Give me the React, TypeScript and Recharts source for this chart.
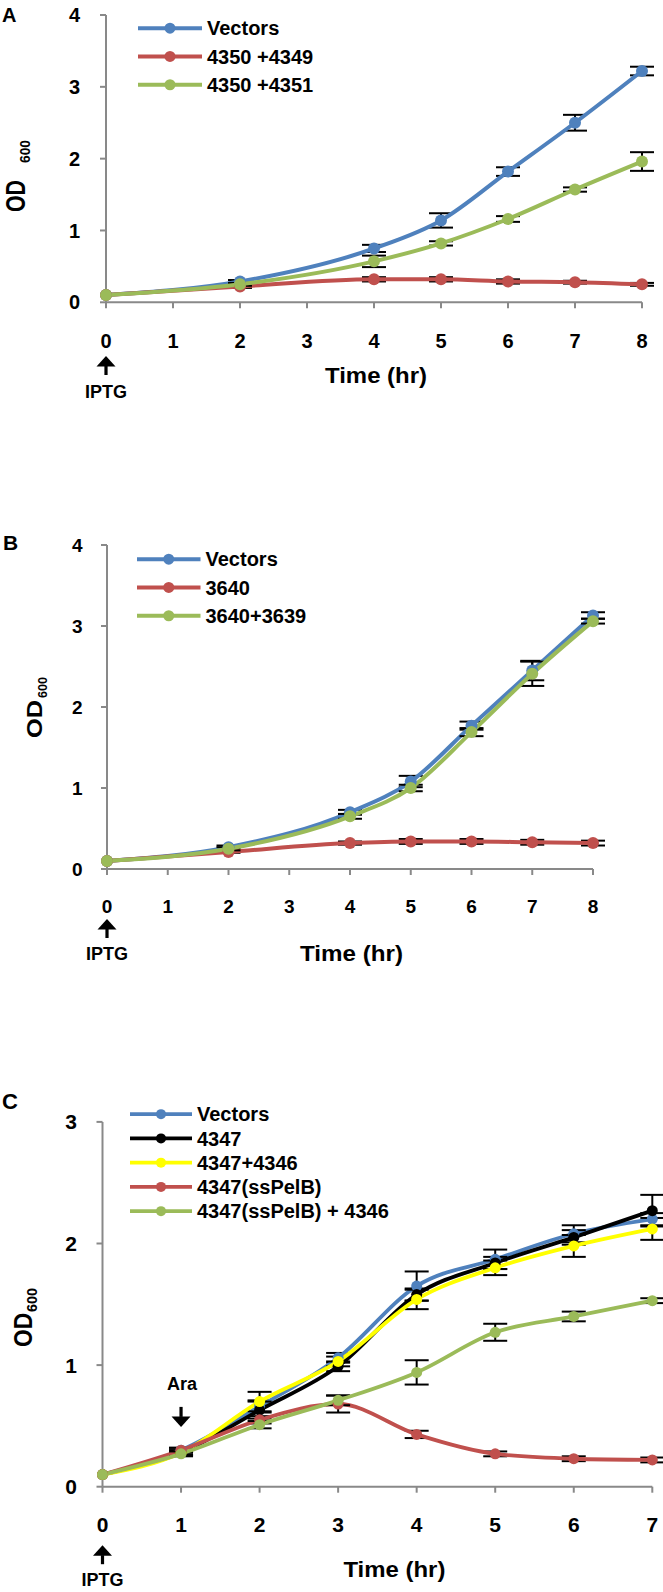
import React from "react";
import { LineChart, Line, XAxis, YAxis, ErrorBar, Legend, ReferenceDot } from "recharts";

const FONT = '"Liberation Sans", Arial, Helvetica, sans-serif';
const GREY = "#898989";
const BLUE = "#4F81BD";
const RED = "#C0504D";
const GREEN = "#9BBB59";
const BLACK = "#000000";
const YELLOW = "#FFFF00";

// Panel A
const timeA = [0, 2, 4, 5, 6, 7, 8];
const vectorsA = [0.1, 0.29, 0.75, 1.14, 1.82, 2.5, 3.22];
const vectorsAErr = [0, 0.02, 0.05, 0.1, 0.06, 0.11, 0.06];
const a4349 = [0.1, 0.22, 0.32, 0.32, 0.29, 0.28, 0.25];
const a4349Err = [0, 0.02, 0.03, 0.03, 0.03, 0.02, 0.02];
const a4351 = [0.1, 0.25, 0.57, 0.82, 1.16, 1.57, 1.96];
const a4351Err = [0, 0.02, 0.08, 0.03, 0.04, 0.03, 0.13];

// Panel B
const timeB = [0, 2, 4, 5, 6, 7, 8];
const vectorsB = [0.1, 0.27, 0.7, 1.08, 1.77, 2.45, 3.13];
const vectorsBErr = [0, 0.02, 0.03, 0.07, 0.05, 0.12, 0.04];
const b3640 = [0.1, 0.21, 0.32, 0.34, 0.34, 0.33, 0.32];
const b3640Err = [0, 0.01, 0.02, 0.03, 0.03, 0.03, 0.03];
const b3639 = [0.1, 0.25, 0.65, 1.0, 1.69, 2.41, 3.06];
const b3639Err = [0, 0.02, 0.03, 0.04, 0.05, 0.15, 0.03];

// Panel C
const timeC = [0, 1, 2, 3, 4, 5, 6, 7];
const vectorsC = [0.1, 0.3, 0.66, 1.06, 1.65, 1.87, 2.08, 2.2];
const vectorsCErr = [0, 0.02, 0.05, 0.04, 0.12, 0.08, 0.07, 0.05];
const c4347 = [0.1, 0.28, 0.63, 0.99, 1.58, 1.84, 2.05, 2.27];
const c4347Err = [0, 0.02, 0.07, 0.04, 0.05, 0.05, 0.06, 0.13];
const c4346 = [0.1, 0.28, 0.7, 1.03, 1.54, 1.8, 1.98, 2.12];
const c4346Err = [0, 0.02, 0.08, 0.04, 0.08, 0.06, 0.09, 0.09];
const cPelB = [0.1, 0.3, 0.55, 0.68, 0.43, 0.27, 0.23, 0.22];
const cPelBErr = [0, 0.02, 0.03, 0.07, 0.03, 0.02, 0.02, 0.02];
const cPelB4346 = [0.1, 0.27, 0.51, 0.71, 0.94, 1.27, 1.4, 1.53];
const cPelB4346Err = [0, 0.02, 0.03, 0.04, 0.1, 0.07, 0.04, 0.02];

type Series = { name: string; color: string; values: number[]; errs: number[] };

const seriesA: Series[] = [
  { name: "Vectors", color: BLUE, values: vectorsA, errs: vectorsAErr },
  { name: "4350 +4349", color: RED, values: a4349, errs: a4349Err },
  { name: "4350 +4351", color: GREEN, values: a4351, errs: a4351Err },
];
const seriesB: Series[] = [
  { name: "Vectors", color: BLUE, values: vectorsB, errs: vectorsBErr },
  { name: "3640", color: RED, values: b3640, errs: b3640Err },
  { name: "3640+3639", color: GREEN, values: b3639, errs: b3639Err },
];
const seriesC: Series[] = [
  { name: "Vectors", color: BLUE, values: vectorsC, errs: vectorsCErr },
  { name: "4347", color: BLACK, values: c4347, errs: c4347Err },
  { name: "4347+4346", color: YELLOW, values: c4346, errs: c4346Err },
  { name: "4347(ssPelB)", color: RED, values: cPelB, errs: cPelBErr },
  { name: "4347(ssPelB) + 4346", color: GREEN, values: cPelB4346, errs: cPelB4346Err },
];

function buildRows(time: number[], series: Series[]) {
  return time.map((t, i) => {
    const row: Record<string, number> = { t };
    series.forEach((s, k) => {
      row["v" + k] = s.values[i];
      row["e" + k] = s.errs[i];
    });
    return row;
  });
}

function LegendBox({ items, row, font, lineLen, r, lw }: any) {
  return (
    <svg width={380} height={items.length * row} style={{ display: "block", overflow: "visible" }}>
      {items.map((s: Series, i: number) => {
        const y = row / 2 + i * row;
        return (
          <g key={s.name}>
            <line x1={0} x2={lineLen} y1={y} y2={y} stroke={s.color} strokeWidth={lw} />
            <circle cx={lineLen / 2} cy={y} r={r} fill={s.color} />
            <text x={lineLen + 5} y={y + font * 0.36} fontSize={font} fontWeight="bold" fontFamily={FONT} fill="#000">
              {s.name}
            </text>
          </g>
        );
      })}
    </svg>
  );
}

function upArrow(cx: number, tipY: number, tailY: number) {
  return (
    <g>
      <polygon points={`${cx},${tipY} ${cx - 9.5},${tipY + 10.5} ${cx + 9.5},${tipY + 10.5}`} fill="#000" />
      <rect x={cx - 1.6} y={tipY + 10} width={3.2} height={tailY - tipY - 10} fill="#000" />
    </g>
  );
}

function downArrow(cx: number, tipY: number, tailY: number) {
  return (
    <g>
      <polygon points={`${cx},${tipY} ${cx - 9.5},${tipY - 10.5} ${cx + 9.5},${tipY - 10.5}`} fill="#000" />
      <rect x={cx - 1.6} y={tailY} width={3.2} height={tipY - tailY - 10} fill="#000" />
    </g>
  );
}

type PanelCfg = {
  top: number;
  height: number;
  margin: { top: number; right: number; left: number; bottom: number };
  yWidth: number;
  xHeight: number;
  yMax: number;
  time: number[];
  xTicks: number[];
  series: Series[];
  tickFont: number;
  yTickMargin: number;
  xTickMargin: number;
  lw: number;
  dotR: number;
  legend: { left: number; top: number; row: number; font: number; lineLen: number; r: number; lw: number };
  iptg: { tip: number; tail: number; text: number; font: number };
  ara?: { tip: number; tail: number; text: number; font: number };
};

function Panel({ cfg }: { cfg: PanelCfg }) {
  const data = buildRows(cfg.time, cfg.series);
  const yTicks = Array.from({ length: cfg.yMax + 1 }, (_, i) => i);
  const tickStyle = { fill: "#000", fontSize: cfg.tickFont, fontWeight: "bold", fontFamily: FONT };
  const ip = cfg.iptg;
  const ara = cfg.ara;
  return (
    <div style={{ position: "absolute", left: 0, top: cfg.top, width: 663, height: cfg.height }}>
      <LineChart width={663} height={cfg.height} data={data} margin={cfg.margin}>
        <XAxis
          dataKey="t"
          type="number"
          domain={[0, cfg.xTicks[cfg.xTicks.length - 1]]}
          ticks={cfg.xTicks}
          interval={0}
          height={cfg.xHeight}
          tickSize={6}
          tickMargin={cfg.xTickMargin}
          axisLine={{ stroke: GREY, strokeWidth: 2 }}
          tickLine={{ stroke: GREY, strokeWidth: 2 }}
          tick={tickStyle}
        />
        <YAxis
          type="number"
          domain={[0, cfg.yMax]}
          ticks={yTicks}
          interval={0}
          width={cfg.yWidth}
          tickSize={6}
          tickMargin={cfg.yTickMargin}
          axisLine={{ stroke: GREY, strokeWidth: 2 }}
          tickLine={{ stroke: GREY, strokeWidth: 2 }}
          tick={tickStyle}
        />
        <Legend
          layout="horizontal"
          verticalAlign="middle"
          align="center"
          wrapperStyle={{ left: cfg.legend.left, top: cfg.legend.top, width: 380, height: cfg.series.length * cfg.legend.row }}
          content={() => (
            <LegendBox
              items={cfg.series}
              row={cfg.legend.row}
              font={cfg.legend.font}
              lineLen={cfg.legend.lineLen}
              r={cfg.legend.r}
              lw={cfg.legend.lw}
            />
          )}
        />
        {cfg.series.map((s, k) => (
          <Line
            key={s.name}
            type="monotone"
            dataKey={"v" + k}
            name={s.name}
            stroke={s.color}
            strokeWidth={cfg.lw}
            dot={{ r: cfg.dotR, fill: s.color, stroke: s.color, strokeWidth: 0 }}
            activeDot={false}
            isAnimationActive={false}
          >
            <ErrorBar dataKey={"e" + k} direction="y" width={12} strokeWidth={2} stroke="#000" />
          </Line>
        ))}
        <ReferenceDot
          x={0}
          y={0}
          r={0}
          isFront
          shape={(p: any) => (
            <g>
              {upArrow(p.cx, p.cy + ip.tip, p.cy + ip.tail)}
              <text x={p.cx} y={p.cy + ip.text} textAnchor="middle" fontSize={ip.font} fontWeight="bold" fontFamily={FONT} fill="#000">
                IPTG
              </text>
            </g>
          )}
        />
        {ara && (
          <ReferenceDot
            x={1}
            y={0}
            r={0}
            isFront
            shape={(p: any) => (
              <g>
                {downArrow(p.cx, p.cy - ara.tip, p.cy - ara.tail)}
                <text x={p.cx + 1} y={p.cy - ara.text} textAnchor="middle" fontSize={ara.font} fontWeight="bold" fontFamily={FONT} fill="#000">
                  Ara
                </text>
              </g>
            )}
          />
        )}
      </LineChart>
    </div>
  );
}

const panelA: PanelCfg = {
  top: 0,
  height: 410,
  margin: { top: 15, right: 21, left: 0, bottom: 0 },
  yWidth: 106,
  xHeight: 107.7,
  yMax: 4,
  time: timeA,
  xTicks: [0, 1, 2, 3, 4, 5, 6, 7, 8],
  series: seriesA,
  tickFont: 20,
  yTickMargin: 20,
  xTickMargin: 25.5,
  lw: 4,
  dotR: 6,
  legend: { left: 138, top: 14.2, row: 28.3, font: 20, lineLen: 64, r: 5.5, lw: 4 },
  iptg: { tip: 53.7, tail: 72.7, text: 95.7, font: 18 },
};

const panelB: PanelCfg = {
  top: 500,
  height: 470,
  margin: { top: 45, right: 70, left: 0, bottom: 0 },
  yWidth: 107,
  xHeight: 101,
  yMax: 4,
  time: timeB,
  xTicks: [0, 1, 2, 3, 4, 5, 6, 7, 8],
  series: seriesB,
  tickFont: 19,
  yTickMargin: 18.5,
  xTickMargin: 24.5,
  lw: 4,
  dotR: 6,
  legend: { left: 136.7, top: 44.85, row: 28.3, font: 20, lineLen: 63.5, r: 5.5, lw: 4 },
  iptg: { tip: 50, tail: 69, text: 91, font: 18 },
};

const panelC: PanelCfg = {
  top: 1060,
  height: 532,
  margin: { top: 61.9, right: 10.7, left: 0, bottom: 0 },
  yWidth: 102.5,
  xHeight: 105.3,
  yMax: 3,
  time: timeC,
  xTicks: [0, 1, 2, 3, 4, 5, 6, 7],
  series: seriesC,
  tickFont: 21,
  yTickMargin: 19.5,
  xTickMargin: 24.3,
  lw: 3.8,
  dotR: 5.5,
  legend: { left: 130, top: 42.2, row: 24.25, font: 20, lineLen: 62, r: 5, lw: 3.6 },
  iptg: { tip: 58.5, tail: 77.5, text: 99.5, font: 18 },
  ara: { tip: 59.8, tail: 79.8, text: 96.3, font: 18 },
};

function Overlay() {
  const bold = { fontWeight: "bold" as const, fontFamily: FONT, fill: "#000" };
  const rot = (x: number, y: number) => `rotate(-90 ${x} ${y})`;
  return (
    <svg width={663} height={1592} style={{ position: "absolute", left: 0, top: 0, pointerEvents: "none" }}>
      <text x={2} y={22} fontSize={20} {...bold}>A</text>
      <text x={3} y={550} fontSize={21} {...bold}>B</text>
      <text x={2} y={1109} fontSize={22} {...bold}>C</text>

      <text x={25} y={196} transform={rot(25, 196)} textAnchor="middle" fontSize={28} textLength={32} lengthAdjust="spacingAndGlyphs" {...bold}>OD</text>
      <text x={30} y={151.5} transform={rot(30, 151.5)} textAnchor="middle" fontSize={15} textLength={23} lengthAdjust="spacingAndGlyphs" {...bold}>600</text>

      <text x={42} y={719} transform={rot(42, 719)} textAnchor="middle" fontSize={22} textLength={38} lengthAdjust="spacingAndGlyphs" {...bold}>OD</text>
      <text x={47} y={687.5} transform={rot(47, 687.5)} textAnchor="middle" fontSize={13.5} textLength={21} lengthAdjust="spacingAndGlyphs" {...bold}>600</text>

      <text x={32} y={1330} transform={rot(32, 1330)} textAnchor="middle" fontSize={26} textLength={34} lengthAdjust="spacingAndGlyphs" {...bold}>OD</text>
      <text x={37} y={1300} transform={rot(37, 1300)} textAnchor="middle" fontSize={14} textLength={24} lengthAdjust="spacingAndGlyphs" {...bold}>600</text>

      <text x={376} y={383} textAnchor="middle" fontSize={22} textLength={102} lengthAdjust="spacingAndGlyphs" {...bold}>Time (hr)</text>
      <text x={351.5} y={961} textAnchor="middle" fontSize={22} textLength={103} lengthAdjust="spacingAndGlyphs" {...bold}>Time (hr)</text>
      <text x={394.4} y={1577} textAnchor="middle" fontSize={22} textLength={102} lengthAdjust="spacingAndGlyphs" {...bold}>Time (hr)</text>
    </svg>
  );
}

export default function App() {
  return (
    <div style={{ position: "absolute", left: 0, top: 0, width: 663, height: 1592, background: "#fff", overflow: "hidden" }}>
      <Panel cfg={panelA} />
      <Panel cfg={panelB} />
      <Panel cfg={panelC} />
      <Overlay />
    </div>
  );
}
